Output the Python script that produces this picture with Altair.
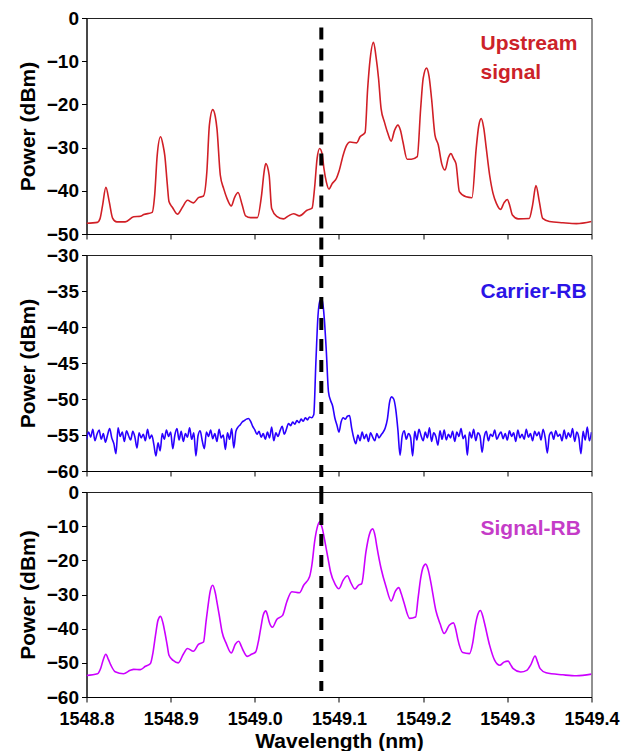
import altair as alt
import pandas as pd

# ---------------- data ----------------
x_ticks = [1548.8, 1548.9, 1549.0, 1549.1, 1549.2, 1549.3, 1549.4]
marker_wl = [1549.079]

red_wl = [1548.800, 1548.813, 1548.816, 1548.819, 1548.823, 1548.827, 1548.831, 1548.836, 1548.846, 1548.856,
          1548.864, 1548.868, 1548.878, 1548.881, 1548.884, 1548.888, 1548.891, 1548.893, 1548.896, 1548.898,
          1548.902, 1548.908, 1548.914, 1548.920, 1548.927, 1548.933, 1548.939, 1548.943, 1548.946, 1548.950,
          1548.953, 1548.955, 1548.959, 1548.963, 1548.967, 1548.972, 1548.976, 1548.980, 1548.985, 1548.989,
          1548.995, 1549.003, 1549.008, 1549.011, 1549.013, 1549.017, 1549.020, 1549.026, 1549.034, 1549.040,
          1549.046, 1549.053, 1549.062, 1549.068, 1549.071, 1549.074, 1549.077, 1549.080, 1549.082, 1549.085,
          1549.088, 1549.092, 1549.097, 1549.100, 1549.105, 1549.109, 1549.113, 1549.121, 1549.125, 1549.131,
          1549.134, 1549.137, 1549.141, 1549.144, 1549.147, 1549.150, 1549.154, 1549.158, 1549.162, 1549.166,
          1549.170, 1549.173, 1549.176, 1549.181, 1549.186, 1549.193, 1549.197, 1549.200, 1549.204, 1549.207,
          1549.210, 1549.214, 1549.218, 1549.222, 1549.226, 1549.230, 1549.233, 1549.236, 1549.239, 1549.243,
          1549.251, 1549.258, 1549.263, 1549.266, 1549.269, 1549.272, 1549.275, 1549.279, 1549.283, 1549.287,
          1549.292, 1549.296, 1549.300, 1549.303, 1549.306, 1549.313, 1549.326, 1549.330, 1549.334, 1549.338,
          1549.342, 1549.350, 1549.366, 1549.382, 1549.400]
red_db = [-47.5, -47.3, -46.5, -43.5, -39.2, -42.5, -46.3, -47.2, -47.2, -46.0,
          -45.9, -45.5, -45.0, -41.0, -31.8, -27.5, -29.5, -31.8, -38.5, -42.5,
          -43.8, -45.4, -43.8, -42.2, -42.8, -41.6, -41.2, -35.6, -24.8, -21.2,
          -22.8, -25.6, -36.4, -39.5, -41.8, -43.5, -41.5, -40.4, -43.3, -45.8,
          -46.2, -46.2, -41.0, -35.6, -33.7, -36.4, -44.1, -45.9, -46.5, -45.8,
          -45.3, -45.8, -44.5, -44.0, -39.3, -32.5, -30.2, -31.5, -34.7, -38.0,
          -39.6, -38.3, -37.1, -35.5, -31.7, -29.5, -28.7, -28.9, -27.5, -26.5,
          -16.5, -9.5, -5.6, -9.0, -14.0, -21.0, -24.1, -26.7, -28.5, -26.0,
          -24.8, -26.0, -28.7, -32.7, -32.7, -32.1, -21.0, -14.0, -11.6, -13.5,
          -18.7, -27.1, -29.4, -33.7, -35.2, -32.3, -31.4, -32.5, -33.7, -40.2,
          -41.4, -41.6, -30.2, -25.0, -23.3, -25.5, -30.2, -36.4, -40.6, -42.9,
          -44.3, -42.8, -42.0, -43.5, -45.6, -46.5, -46.4, -43.3, -38.8, -42.5,
          -46.4, -47.1, -47.4, -47.6, -47.1]

# Carrier-RB: OSA trace sampled every 0.0025 nm from 1548.800 nm
blue_start = 1548.800
blue_step = 0.0025
blue_db = [-55.6, -54.6, -55.3, -54.2, -55.8, -54.9, -54.3, -55.6, -54.8, -56.0,
           -55.0, -54.1, -55.4, -56.2, -57.6, -54.0, -55.2, -54.6, -55.9, -54.4,
           -55.1, -55.7, -54.5, -55.3, -56.8, -54.7, -55.4, -54.9, -55.8, -54.2,
           -55.5, -55.0, -56.3, -57.9, -56.1, -57.2, -54.8, -55.6, -54.3, -55.2,
           -54.6, -56.9, -55.0, -54.1, -55.7, -54.5, -55.9, -54.8, -55.3, -54.0,
           -55.6, -54.7, -57.9, -55.1, -54.4, -55.8, -56.9, -54.6, -55.2, -54.3,
           -55.5, -54.8, -55.9, -54.2, -55.4, -55.0, -57.0, -54.7, -55.6, -54.1,
           -56.8, -54.5, -53.9, -53.6, -53.2, -53.0, -52.8, -52.7, -53.1, -53.8,
           -54.3, -54.9, -54.5, -55.3, -54.8, -55.6, -54.6, -55.4, -53.9, -55.8,
           -54.7, -55.2, -54.4, -53.8, -54.9, -54.2, -53.4, -53.7, -53.2, -53.5,
           -53.0, -53.3, -52.8, -53.1, -52.6, -52.9, -52.5, -52.6, -52.2, -45.0,
           -38.5, -36.3, -36.2, -38.8, -43.5, -49.0, -50.2, -51.0, -52.6, -53.6,
           -54.6, -53.2, -52.6, -52.8, -52.4, -52.3, -54.0, -55.4, -56.2, -55.0,
           -55.8, -54.6, -55.5, -54.9, -55.9, -54.7, -55.3, -55.8, -54.8, -55.4,
           -55.0, -54.6, -54.0, -52.8, -50.5, -49.7, -50.0, -51.5, -54.3, -57.8,
           -55.2, -54.4, -55.6, -54.8, -55.3, -57.9, -54.5, -55.7, -54.2, -55.1,
           -55.8, -54.6, -55.4, -54.0, -55.9, -54.7, -55.2, -56.4, -54.4, -55.6,
           -54.3, -55.7, -54.9, -55.4, -54.5, -55.9, -54.6, -55.2, -54.1, -55.5,
           -55.0, -57.8, -54.6, -55.4, -54.2, -55.8, -54.7, -55.1, -57.4, -55.3,
           -54.5, -55.8, -54.9, -55.2, -54.3, -55.6, -55.0, -54.6, -55.5, -54.8,
           -55.7, -54.4, -55.2, -54.7, -55.9, -54.3, -55.4, -54.9, -55.6, -54.2,
           -55.3, -54.8, -55.8, -54.5, -55.1, -54.6, -55.7, -54.2, -55.4, -57.5,
           -55.0, -54.6, -55.6, -54.4, -55.2, -54.9, -55.8, -54.3, -55.5, -54.7,
           -55.3, -54.1, -55.9, -54.6, -55.4, -57.6, -54.5, -55.7, -53.9, -55.8,
           -54.6]

mag_wl = [1548.800, 1548.813, 1548.817, 1548.820, 1548.823, 1548.826, 1548.829, 1548.834, 1548.844, 1548.852,
          1548.856, 1548.864, 1548.870, 1548.876, 1548.879, 1548.882, 1548.885, 1548.888, 1548.891, 1548.893,
          1548.896, 1548.898, 1548.903, 1548.909, 1548.915, 1548.920, 1548.927, 1548.933, 1548.939, 1548.942,
          1548.944, 1548.947, 1548.950, 1548.953, 1548.955, 1548.958, 1548.961, 1548.966, 1548.972, 1548.977,
          1548.981, 1548.984, 1548.987, 1548.991, 1548.996, 1549.001, 1549.004, 1549.007, 1549.010, 1549.013,
          1549.015, 1549.017, 1549.021, 1549.026, 1549.033, 1549.038, 1549.044, 1549.053, 1549.058, 1549.065,
          1549.068, 1549.071, 1549.074, 1549.077, 1549.080, 1549.084, 1549.087, 1549.090, 1549.095, 1549.100,
          1549.105, 1549.110, 1549.114, 1549.119, 1549.123, 1549.127, 1549.132, 1549.136, 1549.140, 1549.143,
          1549.145, 1549.150, 1549.156, 1549.162, 1549.167, 1549.171, 1549.174, 1549.177, 1549.184, 1549.191,
          1549.194, 1549.197, 1549.200, 1549.203, 1549.206, 1549.209, 1549.215, 1549.220, 1549.225, 1549.231,
          1549.236, 1549.239, 1549.241, 1549.247, 1549.255, 1549.259, 1549.262, 1549.265, 1549.268, 1549.271,
          1549.273, 1549.279, 1549.285, 1549.291, 1549.296, 1549.301, 1549.304, 1549.307, 1549.316, 1549.323,
          1549.328, 1549.333, 1549.336, 1549.339, 1549.346, 1549.366, 1549.382, 1549.400]
mag_db = [-53.7, -53.2, -51.5, -49.0, -47.5, -49.0, -50.7, -52.6, -53.2, -52.2,
          -51.9, -52.0, -51.0, -50.2, -47.0, -41.9, -37.5, -36.4, -38.5, -40.9,
          -45.0, -47.8, -49.3, -50.0, -47.5, -45.8, -46.6, -44.6, -43.9, -38.0,
          -34.1, -29.0, -27.3, -29.5, -32.2, -36.5, -40.9, -44.3, -47.1, -44.5,
          -43.7, -45.2, -46.8, -48.1, -47.5, -46.8, -44.0, -39.9, -36.0, -34.8,
          -36.0, -38.0, -39.6, -37.3, -36.1, -32.1, -29.2, -29.5, -27.3, -24.8,
          -21.0, -14.6, -10.5, -8.7, -10.5, -15.5, -19.5, -23.4, -26.8, -28.3,
          -25.8, -24.5, -26.5, -28.4, -27.3, -26.8, -17.5, -12.5, -10.8, -13.0,
          -16.0, -22.4, -27.8, -31.9, -29.0, -28.0, -29.8, -32.2, -37.0, -36.6,
          -31.0, -25.3, -22.0, -21.1, -22.8, -26.3, -34.6, -38.5, -41.4, -39.0,
          -38.3, -40.5, -42.9, -47.0, -47.3, -44.0, -39.0, -35.8, -34.7, -36.5,
          -38.5, -44.9, -49.3, -50.7, -49.8, -49.5, -50.6, -51.7, -52.7, -52.2,
          -50.5, -48.0, -49.8, -51.7, -52.9, -53.5, -53.8, -53.3]

panel_labels = [["Upstream", "signal"], ["Carrier-RB"], ["Signal-RB"]]
line_colors = ["#d11f26", "#2a00ff", "#cc00ff"]
text_colors = ["#cc2229", "#2b14e6", "#c53cc8"]
y_domains = [[-50, 0], [-60, -30], [-60, 0]]
y_ticks = [[-50, -40, -30, -20, -10, 0], [-60, -55, -50, -45, -40, -35, -30],
           [-60, -50, -40, -30, -20, -10, 0]]

# ---------------- chart ----------------
FONT = "Liberation Sans"
W = 505
heights = [216, 216, 205]
GAP = 21

red_df = pd.DataFrame({"wl": red_wl, "p": red_db})
blue_df = pd.DataFrame({"wl": [round(blue_start + blue_step * i, 4) for i in range(len(blue_db))],
                        "p": blue_db})
mag_df = pd.DataFrame({"wl": mag_wl, "p": mag_db})
dfs = [red_df, blue_df, mag_df]
marker_df = pd.DataFrame({"wl": marker_wl})

rule_spans = [(9.5, heights[0] + GAP), (0, heights[1] + GAP), (0, 199)]
label_y = [31.8, 43.2, 43.0]


def panel(i, last):
    xscale = alt.Scale(domain=[1548.8, 1549.4], nice=False, zero=False)
    if last:
        xaxis = alt.Axis(values=x_ticks, format=".1f", title="Wavelength (nm)", grid=False,
                         tickSize=5, labelPadding=8, titlePadding=2, labelFlush=False)
    else:
        xaxis = alt.Axis(values=x_ticks, labels=False, title=None, grid=False, tickSize=5)
    yaxis = alt.Axis(values=y_ticks[i], title="Power (dBm)", grid=False, tickSize=5,
                     labelPadding=3, titlePadding=8)
    line = alt.Chart(dfs[i]).mark_line(color=line_colors[i], strokeWidth=1.6,
                                       interpolate="monotone", clip=True).encode(
        x=alt.X("wl:Q", scale=xscale, axis=xaxis),
        y=alt.Y("p:Q", scale=alt.Scale(domain=y_domains[i], nice=False, zero=False), axis=yaxis),
    )
    y0, y1 = rule_spans[i]
    rule = alt.Chart(marker_df).mark_rule(color="black", strokeWidth=4, strokeDash=[12, 9],
                                          clip=False).encode(
        x="wl:Q", y=alt.value(y0), y2=alt.value(y1))
    txt = alt.Chart(pd.DataFrame({"t": [panel_labels[i]]})).mark_text(
        align="left", baseline="alphabetic", fontSize=21, fontWeight="bold", font=FONT,
        color=text_colors[i], lineHeight=29).encode(
        text="t", x=alt.value(394), y=alt.value(label_y[i]))
    return alt.layer(line, rule, txt).properties(width=W, height=heights[i])


chart = alt.vconcat(panel(0, False), panel(1, False), panel(2, True),
                    spacing=GAP, bounds="flush").properties(
    padding={"left": 8.5, "top": 0, "right": 0, "bottom": 0}
).configure_view(stroke="#222", strokeWidth=1).configure_axis(
    labelFont=FONT, titleFont=FONT, labelFontWeight="bold", titleFontWeight="bold",
    labelFontSize=19, titleFontSize=21, labelColor="black", titleColor="black",
    domainColor="black", tickColor="black", domainWidth=1, tickWidth=1
).configure_axisX(labelFontSize=18)

chart.save("out.html", embed_options={"renderer": "svg", "actions": False})
